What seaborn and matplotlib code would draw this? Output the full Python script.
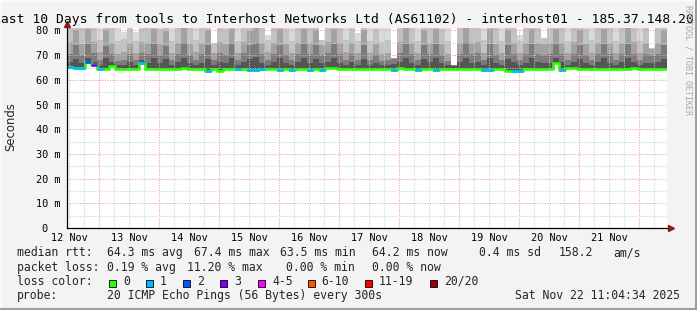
import numpy as np
import pandas as pd
import matplotlib
matplotlib.use("Agg")
import matplotlib.pyplot as plt
import matplotlib.dates as mdates
from matplotlib.patches import Rectangle
from matplotlib.lines import Line2D
from matplotlib.ticker import FuncFormatter, NullFormatter, MultipleLocator
import seaborn as sns

# ---------------- data ----------------
title = "Last 10 Days from tools to Interhost Networks Ltd (AS61102) - interhost01 - 185.37.148.20"
start_time = "2025-11-12 11:04:34"
end_time = "2025-11-22 11:04:34"

median_ms = [65.3, 64.8, 64.8, 67.3, 66.0, 64.5, 64.2, 65.8, 64.3, 64.2,
             64.2, 64.3, 66.7, 64.3, 64.4, 64.3, 64.2, 64.3, 64.3, 64.6,
             64.3, 64.3, 64.3, 63.7, 64.3, 63.6, 64.3, 64.2, 64.2, 64.3,
             63.8, 63.8, 64.2, 64.3, 64.3, 64.1, 64.3, 64.1, 64.3, 64.3,
             64.1, 64.3, 64.1, 65.0, 65.0, 64.4, 64.3, 64.3, 64.3, 64.3,
             64.3, 64.3, 64.3, 64.3, 64.1, 65.0, 64.3, 64.3, 64.1, 64.3,
             64.3, 64.1, 64.3, 64.3, 64.3, 64.3, 64.3, 64.3, 64.3, 64.1,
             64.1, 64.3, 64.3, 63.6, 63.5, 63.6, 64.3, 64.3, 64.3, 64.3,
             64.3, 67.0, 64.0, 65.0, 65.0, 64.4, 64.3, 64.3, 64.3, 64.4,
             64.3, 64.3, 64.3, 64.5, 65.0, 64.4, 64.3, 64.3, 64.3, 64.3]

loss_count = [1, 1, 1, 2, 3, 1, 0, 0, 0, 0,
              0, 0, 1, 0, 0, 0, 0, 0, 0, 0,
              0, 0, 0, 1, 0, 0, 0, 0, 1, 0,
              1, 1, 1, 0, 0, 1, 0, 1, 0, 0,
              1, 0, 1, 0, 0, 0, 0, 0, 0, 0,
              0, 0, 0, 0, 1, 0, 0, 0, 1, 0,
              0, 1, 0, 0, 0, 0, 0, 0, 0, 1,
              1, 0, 0, 0, 1, 1, 0, 0, 0, 0,
              0, 0, 1, 0, 0, 0, 0, 0, 0, 0,
              0, 0, 0, 0, 0, 0, 0, 0, 0, 0]

smoke_b1 = [67.2, 68.6, 66.9, 68.9, 67.3, 66.1, 68.7, 67.4, 65.9, 66.2,
            67.1, 66.0, 68.0, 67.0, 68.8, 66.8, 68.4, 65.9, 67.2, 69.0,
            67.0, 66.1, 66.9, 68.6, 66.0, 67.1, 66.8, 68.9, 65.9, 67.3,
            68.5, 69.1, 67.0, 66.1, 67.2, 68.7, 66.9, 66.0, 67.1, 68.8,
            67.0, 68.6, 66.8, 67.4, 68.7, 67.0, 66.0, 67.1, 66.1, 68.5,
            66.0, 66.9, 65.9, 66.1, 66.6, 67.3, 68.9, 67.0, 66.0, 68.6,
            67.2, 68.8, 66.9, 65.9, 65.6, 67.1, 69.0, 67.0, 67.2, 66.0,
            68.7, 66.9, 66.1, 68.5, 67.1, 66.0, 67.0, 68.8, 67.2, 66.8,
            67.0, 68.9, 67.1, 66.0, 67.2, 68.6, 66.9, 66.1, 67.1, 68.7,
            67.0, 66.0, 67.1, 68.8, 67.3, 66.1, 67.0, 66.9, 67.1, 68.5]

smoke_b2 = [70.6, 74.3, 70.2, 74.5, 70.8, 68.1, 73.9, 70.5, 67.8, 68.2,
            70.3, 68.0, 71.0, 70.4, 74.4, 70.1, 73.7, 67.9, 70.6, 74.8,
            70.2, 68.2, 70.4, 74.1, 68.0, 70.7, 70.0, 74.6, 67.9, 70.9,
            74.0, 74.9, 70.3, 68.1, 70.6, 74.3, 70.2, 68.0, 70.5, 74.5,
            70.4, 74.2, 70.0, 70.8, 74.4, 70.3, 68.1, 70.5, 68.0, 74.1,
            67.9, 70.2, 67.8, 68.1, 68.4, 70.7, 74.7, 70.4, 68.0, 74.3,
            70.6, 74.5, 70.2, 67.8, 65.9, 70.5, 74.9, 70.3, 70.7, 68.1,
            74.4, 70.2, 68.0, 74.1, 70.5, 67.9, 70.4, 74.6, 70.6, 70.1,
            70.3, 74.5, 70.5, 68.0, 70.6, 74.3, 70.2, 68.1, 70.5, 74.4,
            70.4, 67.9, 70.5, 74.7, 70.6, 68.0, 70.3, 70.2, 70.5, 74.2]

smoke_b3 = [75.2, 80.3, 74.6, 80.7, 75.4, 71.1, 80.0, 75.0, 70.6, 71.4,
            74.8, 70.9, 75.5, 74.9, 80.5, 74.5, 79.8, 70.8, 75.1, 80.9,
            74.7, 71.3, 75.0, 80.1, 71.0, 75.3, 74.4, 80.6, 70.7, 75.4,
            79.9, 81.1, 74.8, 71.2, 75.1, 80.4, 74.6, 70.9, 75.0, 80.5,
            74.9, 80.2, 74.3, 75.3, 80.6, 74.8, 71.1, 75.0, 70.8, 80.0,
            70.7, 74.6, 70.5, 71.0, 68.9, 75.2, 80.8, 74.9, 70.9, 80.3,
            75.1, 80.5, 74.6, 70.6, 66.0, 75.0, 81.0, 74.8, 75.3, 71.0,
            80.4, 74.7, 70.8, 80.1, 75.0, 70.7, 74.9, 80.7, 75.1, 74.5,
            74.8, 80.5, 75.0, 70.9, 75.2, 80.3, 74.6, 71.0, 75.0, 80.5,
            74.9, 70.8, 75.0, 80.8, 75.2, 70.9, 74.8, 72.5, 75.0, 80.2]

smoke_b4 = [81.5, 88.2, 80.8, 88.6, 81.2, 76.1, 88.0, 81.0, 75.7, 76.5,
            80.9, 75.9, 81.6, 81.0, 88.4, 80.6, 87.8, 75.8, 81.3, 88.8,
            80.8, 76.3, 81.1, 88.1, 76.0, 81.4, 80.5, 88.5, 75.7, 81.5,
            87.9, 89.0, 80.9, 76.2, 81.2, 88.3, 80.7, 75.9, 81.0, 88.4,
            81.0, 88.1, 80.2, 81.4, 88.5, 80.9, 76.1, 81.1, 75.8, 87.9,
            75.7, 80.7, 75.5, 76.0, 71.0, 81.3, 88.7, 81.0, 75.9, 88.2,
            81.2, 88.4, 80.7, 75.6, 66.0, 81.1, 88.9, 80.9, 81.4, 76.0,
            88.3, 80.8, 75.8, 88.0, 81.1, 75.7, 81.0, 88.6, 81.2, 80.6,
            80.9, 88.4, 81.1, 75.9, 81.3, 88.2, 80.7, 76.0, 81.1, 88.4,
            81.0, 75.8, 81.1, 88.7, 81.3, 75.9, 80.9, 78.0, 81.1, 88.1]

smoke_top = [95.0] * 100
for _k, _v in [(9, 79.2), (11, 79.5), (24, 75.0), (33, 78.0), (42, 76.0), (48, 79.0),
               (54, 69.0), (64, 66.0), (75, 78.0), (79, 77.0), (97, 73.0)]:
    smoke_top[_k] = _v

y_ticks = [0, 10, 20, 30, 40, 50, 60, 70, 80]
y_tick_labels = ["0\u00a0\u00a0", "10 m", "20 m", "30 m", "40 m", "50 m", "60 m", "70 m", "80 m"]

loss_labels = ["0", "1", "2", "3", "4-5", "6-10", "11-19", "20/20"]
loss_colors = ["#26ff00", "#00b8ff", "#0059ff", "#7e00ff", "#ff00ff", "#ff5500", "#ff0000", "#a10000"]

stats_rtt = [("median rtt:", 16.7), ("64.3 ms avg", 107), ("67.4 ms max", 193.8),
             ("63.5 ms min", 280.0), ("64.2 ms now", 372.0), ("0.4 ms sd", 478.7),
             ("158.2", 559.1), ("am/s", 613.3)]
stats_loss = [("packet loss:", 16.7), ("0.19 % avg", 107), ("11.20 % max", 187.0),
              ("0.00 % min", 286.2), ("0.00 % now", 371.6)]
probe_text = "20 ICMP Echo Pings (56 Bytes) every 300s"
date_text = "Sat Nov 22 11:04:34 2025"

# ---------------- style ----------------
W, H, DPI = 697, 310, 100
sns.set_theme(style="white")
plt.rcParams['font.family'] = ['DejaVu Sans Mono', 'DejaVu Sans']

BG = "#f3f3f3"
fig = plt.figure(figsize=(W / DPI, H / DPI), dpi=DPI, facecolor=BG)
PL, PR, PT, PB = 67, 667, 28, 228
ax = fig.add_axes([PL / W, 1 - PB / H, (PR - PL) / W, (PB - PT) / H])
ax.set_facecolor("white")

N = len(median_ms)
edges = pd.date_range(start_time, end_time, periods=N + 1)
xe = mdates.date2num(edges.to_pydatetime())

def ext(a):
    a = np.asarray(a, dtype=float)
    return np.append(a, a[-1])

med = np.asarray(median_ms, float)
top = np.asarray(smoke_top, float)
layers = [med, np.asarray(smoke_b1, float), np.asarray(smoke_b2, float),
          np.asarray(smoke_b3, float), np.asarray(smoke_b4, float), top]
shades = ["#555555", "#7c7c7c", "#a2a2a2", "#c2c2c2", "#dadada"]
for i, col in enumerate(shades):
    lo = np.minimum(layers[i], top)
    hi = np.minimum(layers[i + 1], top)
    ax.fill_between(xe, ext(lo), ext(hi), step="post", color=col, linewidth=0, zorder=1)

# median line (green = no loss)
df = pd.DataFrame({"t": xe, "rtt": ext(med)})
sns.lineplot(data=df, x="t", y="rtt", ax=ax, color=loss_colors[0], lw=1.9,
             drawstyle="steps-post", zorder=4, estimator=None)
def loss_idx(n):
    if n <= 3:
        return n
    if n <= 5:
        return 4
    if n <= 10:
        return 5
    if n <= 19:
        return 6
    return 7
for k in range(N):
    if loss_count[k] > 0:
        ax.plot([xe[k], xe[k + 1]], [med[k], med[k]], color=loss_colors[loss_idx(loss_count[k])],
                lw=1.9, solid_capstyle="butt", zorder=5)

ax.set_xlim(xe[0], xe[-1])
ax.set_ylim(0, 81)
ax.set_xlabel("")
ax.set_ylabel("")

# axes / grid
ax.xaxis_date()
ax.xaxis.set_major_locator(mdates.HourLocator(byhour=[0]))
ax.xaxis.set_major_formatter(NullFormatter())
ax.xaxis.set_minor_locator(mdates.HourLocator(byhour=[6, 12, 18]))
def xfmt(v, pos):
    d = mdates.num2date(v)
    return d.strftime("%d %b") if d.hour == 12 else ""
ax.xaxis.set_minor_formatter(FuncFormatter(xfmt))
ax.set_yticks(y_ticks)
ax.set_yticklabels(y_tick_labels)
ax.yaxis.set_minor_locator(MultipleLocator(5))

ax.set_axisbelow(False)
dot = (0, (1.0, 1.4))
ax.grid(True, which="minor", color="#cfcfcf", lw=0.75, ls=dot)
ax.grid(True, which="major", color="#f29a9a", lw=0.75, ls=dot)
ax.tick_params(axis="both", which="both", length=0, labelsize=7.4, colors="#000000")
ax.tick_params(axis="y", pad=5.0)
ax.tick_params(axis="x", which="minor", pad=3.6)
for lbl in ax.get_yticklabels():
    lbl.set_fontfamily("DejaVu Sans Mono")

for s in ["top", "right"]:
    ax.spines[s].set_visible(False)
for s in ["left", "bottom"]:
    ax.spines[s].set_color("#000000")
    ax.spines[s].set_linewidth(0.9)
    ax.spines[s].set_zorder(6)

# axis arrows
ax.plot([0], [1.022], transform=ax.transAxes, marker="^", ms=4.0, color="#8b1a1a",
        clip_on=False, zorder=7, ls="none")
ax.plot([1.007], [0], transform=ax.transAxes, marker=">", ms=4.0, color="#8b1a1a",
        clip_on=False, zorder=7, ls="none")

# ---------------- text ----------------
def ftext(x, y, s, **kw):
    return fig.text(x / W, 1 - y / H, s, **kw)

ftext(-6.9, 22.5, title, fontsize=9.4, ha="left", va="baseline", family="DejaVu Sans Mono", color="#000000")
ftext(11, 127, "Seconds", rotation=90, fontsize=8.4, ha="center", va="center", family="DejaVu Sans")
ftext(688, 60, "RRDTOOL / TOBI OETIKER", rotation=270, fontsize=6.0, ha="center", va="center",
      family="DejaVu Sans Mono", color="#a8a8a8")

LFS = 8.3
rows = [256.4, 270.6, 284.8, 299.0]
for s, x in stats_rtt:
    ftext(x, rows[0], s, fontsize=LFS, ha="left", va="baseline", family="DejaVu Sans Mono")
for s, x in stats_loss:
    ftext(x, rows[1], s, fontsize=LFS, ha="left", va="baseline", family="DejaVu Sans Mono")
ftext(16.7, rows[2], "loss color:", fontsize=LFS, ha="left", va="baseline", family="DejaVu Sans Mono")
sw_x = [109, 146, 183, 220, 258, 307.6, 365, 430]
for lab, colr, x in zip(loss_labels, loss_colors, sw_x):
    fig.patches.append(Rectangle((x / W, 1 - 286.5 / H), 7 / W, 7 / H, transform=fig.transFigure,
                                 facecolor=colr, edgecolor="#000000", lw=0.6))
    ftext(x + 14, rows[2], lab, fontsize=LFS, ha="left", va="baseline", family="DejaVu Sans Mono")
ftext(16.7, rows[3], "probe:", fontsize=LFS, ha="left", va="baseline", family="DejaVu Sans Mono")
ftext(107, rows[3], probe_text, fontsize=LFS, ha="left", va="baseline", family="DejaVu Sans Mono")
ftext(680, rows[3], date_text, fontsize=LFS, ha="right", va="baseline", family="DejaVu Sans Mono")

# frame bevel
fig.add_artist(Line2D([0, 1], [1 - 0.5 / H, 1 - 0.5 / H], transform=fig.transFigure, color="#fbfbfb", lw=1.4))
fig.add_artist(Line2D([0.5 / W, 0.5 / W], [0, 1], transform=fig.transFigure, color="#fbfbfb", lw=1.4))
fig.add_artist(Line2D([0, 1], [1.5 / H, 1.5 / H], transform=fig.transFigure, color="#9e9e9e", lw=2.2))
fig.add_artist(Line2D([1 - 1.5 / W, 1 - 1.5 / W], [0, 1], transform=fig.transFigure, color="#9e9e9e", lw=2.2))

fig.savefig("out.png", dpi=DPI, facecolor=BG)
